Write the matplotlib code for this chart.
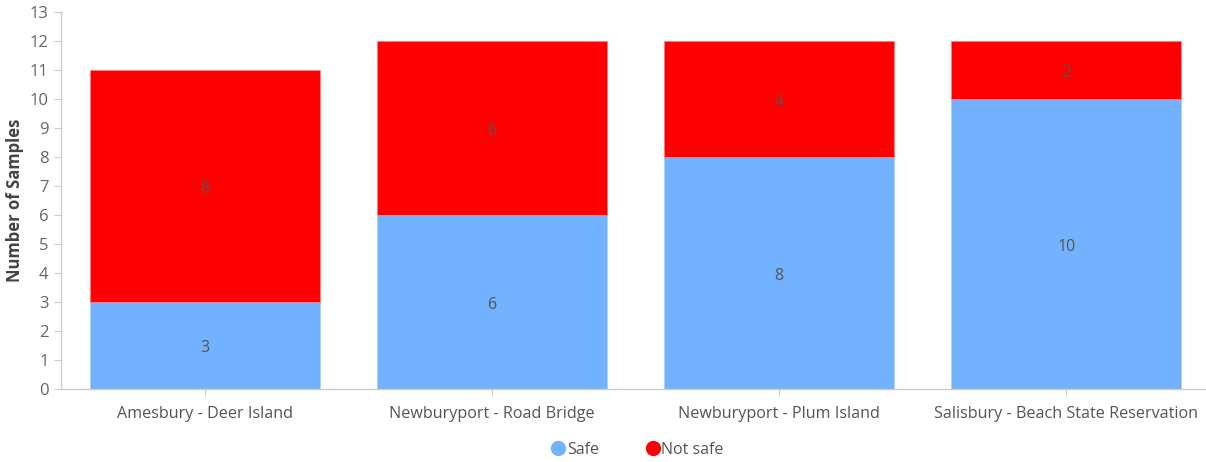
import matplotlib
matplotlib.use("Agg")
import matplotlib.pyplot as plt
from matplotlib.lines import Line2D

categories = ["Amesbury - Deer Island", "Newburyport - Road Bridge",
              "Newburyport - Plum Island", "Salisbury - Beach State Reservation"]
safe = [3, 6, 8, 10]
not_safe = [8, 6, 4, 2]
yticks = list(range(0, 14))

plt.rcParams['font.family'] = ['Open Sans', 'DejaVu Sans']

fig = plt.figure(figsize=(12.06, 4.62), dpi=100)
ax = fig.add_axes([61/1206, 1-389/462, (1210-61)/1206, (389-12)/462])

blue = "#73b2ff"
red = "#ff0000"
x = list(range(len(categories)))
ax.bar(x, safe, width=0.8, color=blue, edgecolor="#a9cfff", linewidth=0.6, zorder=2)
ax.bar(x, not_safe, width=0.8, bottom=safe, color=red, edgecolor="#ff8080", linewidth=0.6, zorder=2)

for i in x:
    ax.text(i, safe[i]/2 - 0.1, str(safe[i]), ha="center", va="center", fontsize=11.5, color="#555555", zorder=3)
    ax.text(i, safe[i] + not_safe[i]/2 - 0.1, str(not_safe[i]), ha="center", va="center", fontsize=11.5, color="#555555", zorder=3)

ax.set_xlim(-0.5, 3.5)
ax.set_ylim(0, 13)
ax.set_yticks(yticks)
ax.set_yticklabels([str(t) for t in yticks], fontsize=12, color="#666666")
ax.set_xticks(x)
ax.set_xticklabels(categories, fontsize=11.6, color="#555555")
ax.tick_params(axis="y", length=5, color="#cccccc", pad=4)
ax.tick_params(axis="x", length=5, color="#cccccc", pad=7)

for s in ["top", "right"]:
    ax.spines[s].set_visible(False)
for s in ["left", "bottom"]:
    ax.spines[s].set_color("#cccccc")
    ax.spines[s].set_linewidth(1)

ax.set_ylabel("Number of Samples", fontsize=12, fontweight="bold", color="#444444", labelpad=4)

handles = [Line2D([], [], marker="o", linestyle="", markersize=10, markerfacecolor=blue, markeredgecolor=blue),
           Line2D([], [], marker="o", linestyle="", markersize=10, markerfacecolor=red, markeredgecolor=red)]
leg = fig.legend(handles, ["Safe", "Not safe"], loc="center", bbox_to_anchor=(635/1206, 1-450/462),
                 ncol=2, frameon=False, fontsize=11.5, handletextpad=-0.2, handlelength=1.5,
                 columnspacing=2.6)
for t in leg.get_texts():
    t.set_color("#555555")

fig.savefig("out.png", dpi=100)
